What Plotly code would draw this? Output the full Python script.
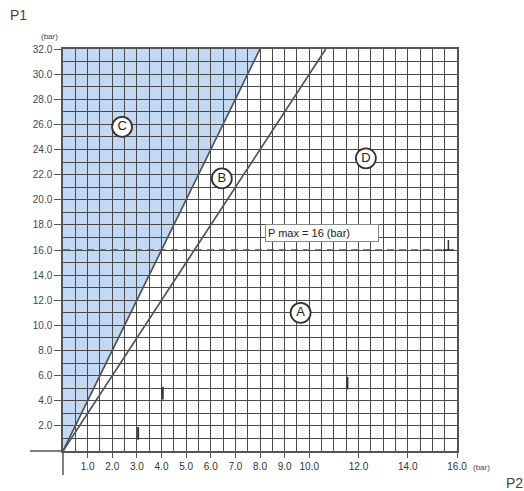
import plotly.graph_objects as go

# ---- data ----
x_tick_vals = [1, 2, 3, 4, 5, 6, 7, 8, 9, 10, 12, 14, 16]
x_tick_text = ["1.0", "2.0", "3.0", "4.0", "5.0", "6.0", "7.0", "8.0", "9.0", "10.0", "12.0", "14.0", "16.0"]
y_tick_vals = [2, 4, 6, 8, 10, 12, 14, 16, 18, 20, 22, 24, 26, 28, 30, 32]
y_tick_text = ["2.0", "4.0", "6.0", "8.0", "10.0", "12.0", "14.0", "16.0", "18.0", "20.0",
               "22.0", "24.0", "26.0", "28.0", "30.0", "32.0"]

line_c_x = [0, 8.0]        # boundary C / B  (P1 = 4 * P2)
line_c_y = [0, 32.0]
line_b_x = [0, 10.67]      # boundary B / A,D (P1 = 3 * P2)
line_b_y = [0, 32.0]

p_max = 16.0
p_max_x = [0, 15.65]

zone_labels = ["C", "B", "D", "A"]
zone_x = [2.4, 6.45, 12.3, 9.65]
zone_y = [25.8, 21.7, 23.3, 11.0]

mark_x = [4.05, 3.05, 11.55]
mark_y = [4.6, 1.4, 5.4]

grid_color = "#4a4a4a"
line_color = "#4b5264"

fig = go.Figure()

# blue region C as a shape below the gridlines
poly = [(line_c_x[0], line_c_y[0]), (line_c_x[1], line_c_y[1]), (0, line_c_y[1])]
path = "M " + " L ".join(f"{px},{py}" for px, py in poly) + " Z"
fig.add_shape(type="path", path=path, xref="x", yref="y", layer="below",
              fillcolor="#c3d8f2", line=dict(width=0))

fig.add_trace(go.Scatter(x=line_c_x, y=line_c_y, mode="lines",
                         line=dict(color=line_color, width=1.7), hoverinfo="skip"))
fig.add_trace(go.Scatter(x=line_b_x, y=line_b_y, mode="lines",
                         line=dict(color=line_color, width=1.7), hoverinfo="skip"))

# P max dashed line
fig.add_trace(go.Scatter(x=p_max_x, y=[p_max, p_max], mode="lines",
                         line=dict(color="#555555", width=1.3, dash="7px,5px"), hoverinfo="skip"))
# end mark
fig.add_trace(go.Scatter(x=[p_max_x[1] - 0.22, p_max_x[1] + 0.22], y=[p_max, p_max], mode="lines",
                         line=dict(color="#333333", width=1.5), hoverinfo="skip"))
fig.add_trace(go.Scatter(x=[p_max_x[1], p_max_x[1]], y=[p_max, p_max + 0.8], mode="lines",
                         line=dict(color="#333333", width=1.5), hoverinfo="skip"))

# small marks
fig.add_trace(go.Scatter(x=mark_x, y=mark_y, mode="markers",
                         marker=dict(symbol="line-ns", size=9, line=dict(color="#333333", width=2)),
                         hoverinfo="skip"))

# zone circles
fig.add_trace(go.Scatter(x=zone_x, y=zone_y, mode="markers+text", text=zone_labels,
                         textposition="middle center",
                         textfont=dict(family="Liberation Sans", size=13, color="#222222"),
                         marker=dict(size=20, color="white", line=dict(color="#333333", width=1.8)),
                         hoverinfo="skip"))

fig.add_annotation(x=8.2, y=17.35, xref="x", yref="y", xanchor="left", yanchor="middle",
                   text="P max = 16 (bar)", showarrow=False, align="left", width=108,
                   font=dict(family="Liberation Sans", size=11, color="#222222"),
                   bgcolor="white", bordercolor="#888888", borderwidth=1, borderpad=2)

# axis titles
fig.add_annotation(x=-0.14, y=1.085, xref="paper", yref="paper", xanchor="left", yanchor="middle",
                   text="P1", showarrow=False, font=dict(family="Liberation Sans", size=14, color="#444444"))
fig.add_annotation(x=-0.06, y=1.032, xref="paper", yref="paper", xanchor="left", yanchor="middle",
                   text="(bar)", showarrow=False, font=dict(family="Liberation Sans", size=8, color="#3d4660"))
fig.add_annotation(x=1.12, y=-0.08, xref="paper", yref="paper", xanchor="left", yanchor="middle",
                   text="P2", showarrow=False, font=dict(family="Liberation Sans", size=14, color="#444444"))
fig.add_annotation(x=1.035, y=-0.04, xref="paper", yref="paper", xanchor="left", yanchor="middle",
                   text="(bar)", showarrow=False, font=dict(family="Liberation Sans", size=8, color="#3d4660"))

# axis extensions
fig.add_shape(type="line", xref="paper", yref="paper", x0=-0.084, x1=0, y0=0, y1=0,
              line=dict(color="#555555", width=1.5))
fig.add_shape(type="line", xref="paper", yref="paper", x0=0, x1=0, y0=-0.06, y1=0,
              line=dict(color="#555555", width=1.5))

fig.update_layout(
    width=524, height=491,
    margin=dict(l=63, r=67, t=49, b=40),
    paper_bgcolor="white", plot_bgcolor="white",
    showlegend=False,
    font=dict(family="Liberation Sans", size=10, color="#333333"),
)
fig.update_xaxes(range=[0, 16], tickvals=x_tick_vals, ticktext=x_tick_text,
                 showgrid=True, gridcolor=grid_color, gridwidth=1.4,
                 minor=dict(dtick=0.5, tick0=0, showgrid=True, gridcolor=grid_color, gridwidth=1.4),
                 ticks="outside", ticklen=5, tickcolor="#555555",
                 showline=True, linecolor="#555555", linewidth=1.5, mirror=True,
                 zeroline=False, fixedrange=True,
                 tickfont=dict(size=10, color="#333333"))
fig.update_yaxes(range=[0, 32], tickvals=y_tick_vals, ticktext=y_tick_text,
                 showgrid=True, gridcolor=grid_color, gridwidth=1.4,
                 minor=dict(dtick=1, tick0=0, showgrid=True, gridcolor=grid_color, gridwidth=1.4),
                 ticks="outside", ticklen=7, tickcolor="#555555",
                 showline=True, linecolor="#555555", linewidth=1.5, mirror=True,
                 zeroline=False, fixedrange=True,
                 tickfont=dict(size=10, color="#3d4660"))

fig.write_html("out.html", config={"displayModeBar": False},
               post_script="document.body.style.margin='0';")
